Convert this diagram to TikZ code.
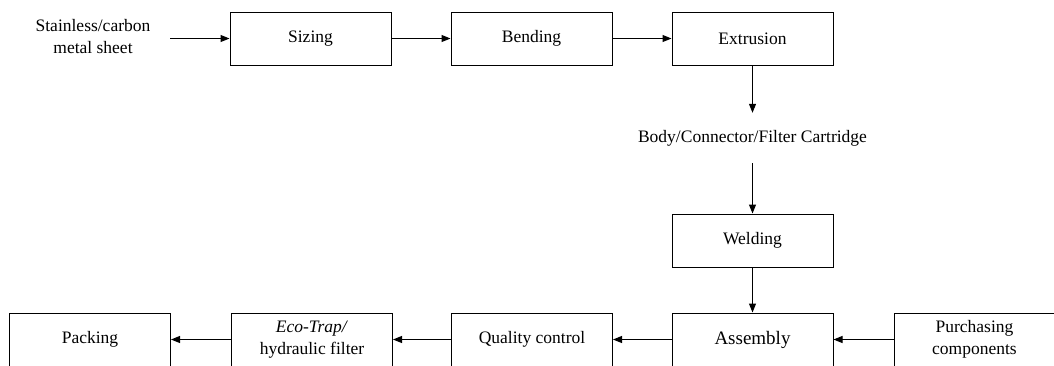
\documentclass[tikz,border=0pt]{standalone}
\usepackage{fontspec}
\setmainfont{Liberation Serif}
\usetikzlibrary{arrows.meta}
\begin{document}
\begin{tikzpicture}[x=1pt,y=-1pt,
  stepbox/.style={draw=black,line width=1pt,minimum width=161pt,minimum height=53pt,inner sep=0pt,align=center,font=\fontsize{17.5}{22}\selectfont},
  plain/.style={inner sep=0pt,align=center,font=\fontsize{17.5}{22}\selectfont},
  flow/.style={draw=black,line width=1pt,-{Triangle[length=9pt,width=7pt]}}]
\useasboundingbox (0,0) rectangle (1054,365);
\node[plain] (input) at (93,37) {Stainless/carbon\\metal sheet};
\coordinate (instart) at (170,38.5);
\node[stepbox] (sizing) at (310.5,38.5) {Sizing};
\node[stepbox] (bending) at (531.5,38.5) {Bending};
\node[stepbox] (extrusion) at (752.5,38.5) {Extrusion};
\node[plain,minimum height=50pt] (body) at (752.5,138) {Body/Connector/Filter Cartridge};
\node[stepbox] (welding) at (752.5,240.5) {Welding};
\node[stepbox,font=\fontsize{19}{22}\selectfont] (assembly) at (752.5,339.5) {Assembly};
\node[stepbox] (purch) at (974.5,339.5) {Purchasing\\components};
\node[stepbox] (qc) at (532,339.5) {Quality control};
\node[stepbox] (eco) at (312,339.5) {\textit{Eco-Trap/}\\hydraulic filter};
\node[stepbox] (packing) at (90,339.5) {Packing};
\draw[flow] (instart) -- (sizing);
\draw[flow] (sizing) -- (bending);
\draw[flow] (bending) -- (extrusion);
\draw[flow] (extrusion) -- (body);
\draw[flow] (body) -- (welding);
\draw[flow] (welding) -- (assembly);
\draw[flow] (purch) -- (assembly);
\draw[flow] (assembly) -- (qc);
\draw[flow] (qc) -- (eco);
\draw[flow] (eco) -- (packing);
\end{tikzpicture}
\end{document}
